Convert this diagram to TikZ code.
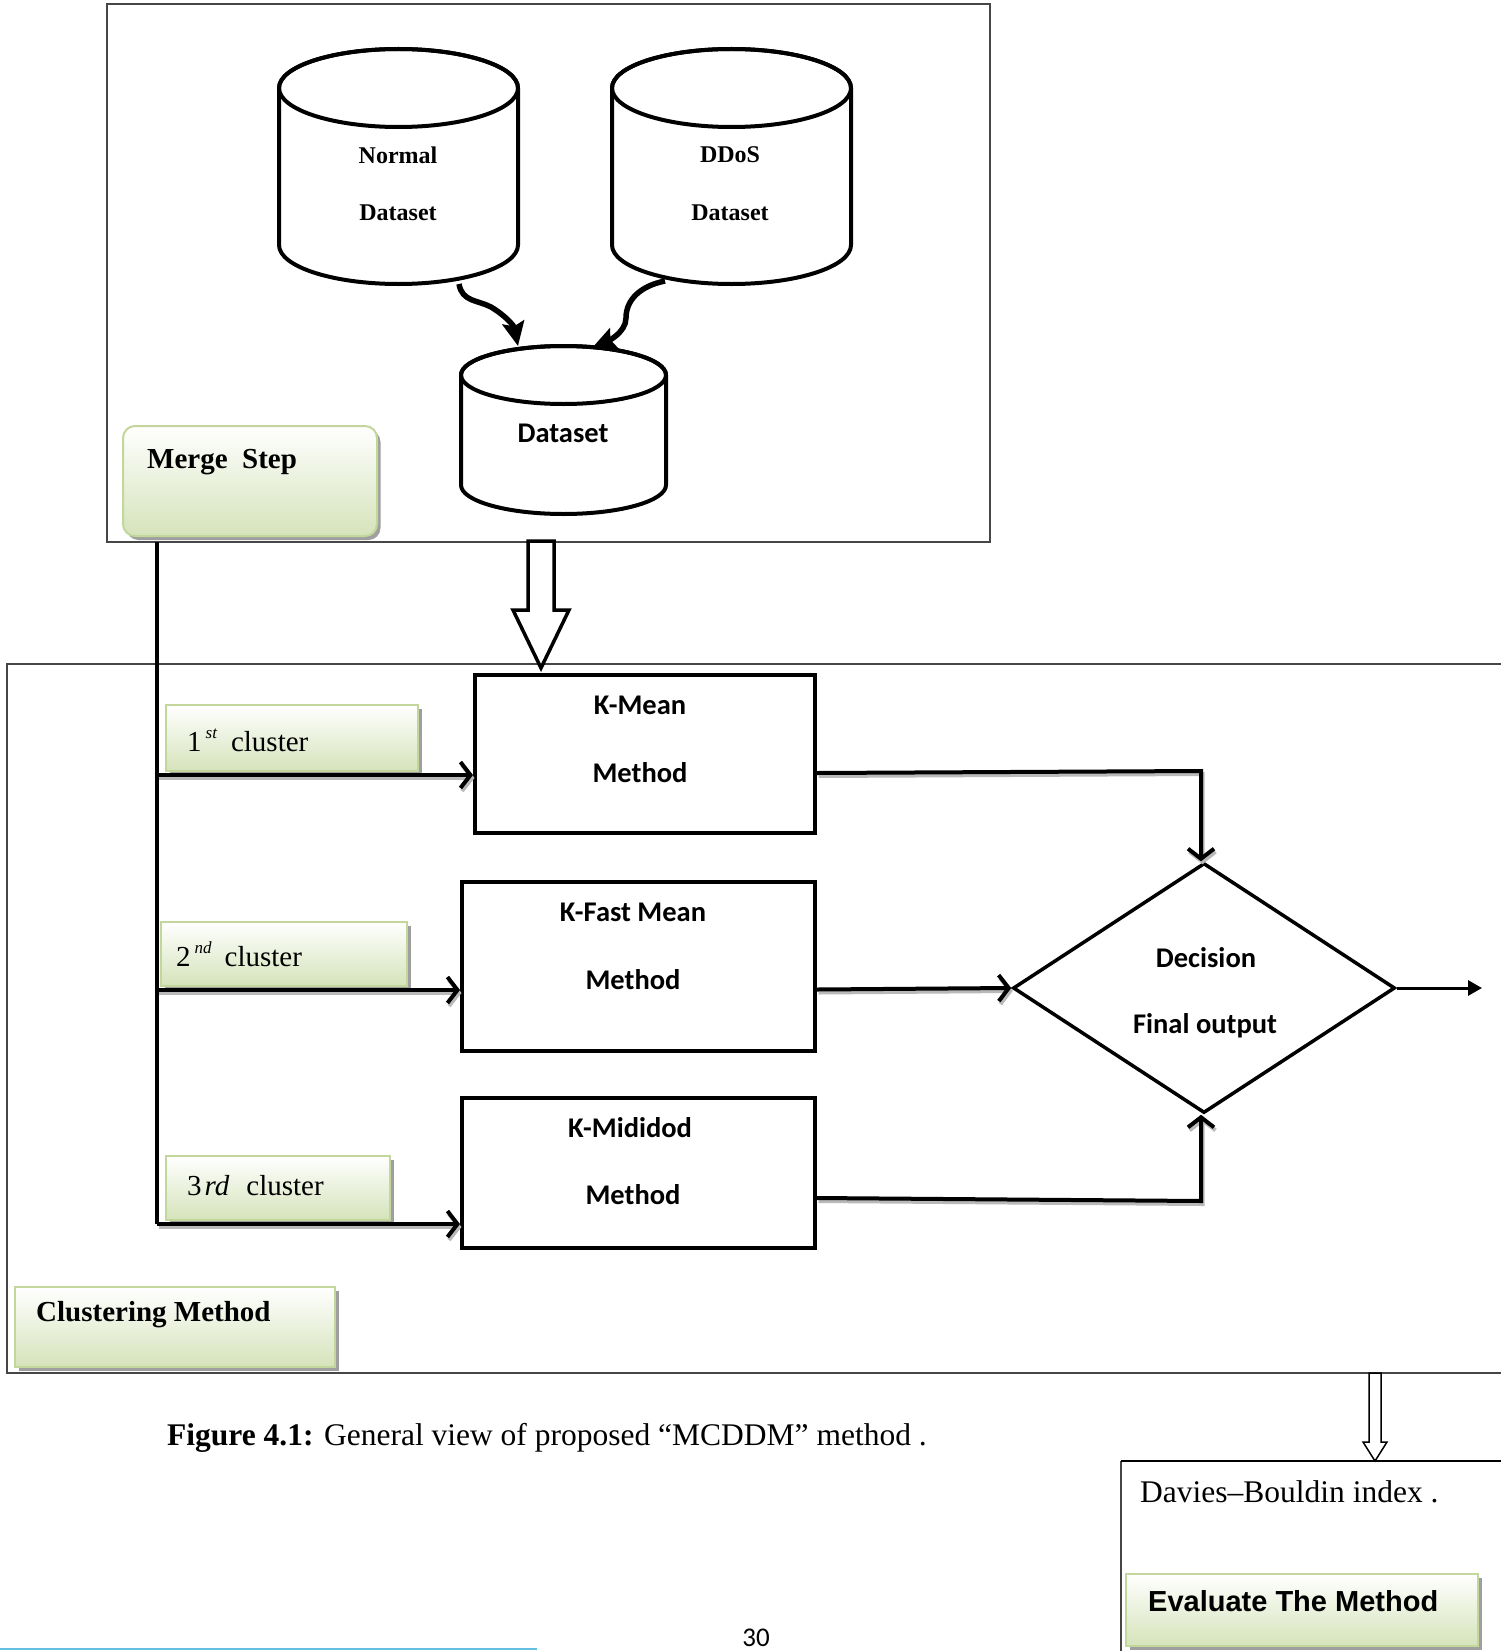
\documentclass[tikz,border=0pt]{standalone}
\usepackage{fontspec}
\setmainfont{Liberation Serif}
\newfontfamily\calfont{Carlito}
\newfontfamily\arialfont{Liberation Sans}
\usetikzlibrary{arrows.meta,shapes.geometric,shadows,calc}
\definecolor{gbord}{RGB}{195,214,155}
\definecolor{gfill}{RGB}{213,227,186}
\definecolor{framec}{RGB}{70,70,70}
\definecolor{pageblue}{RGB}{100,190,225}
\newcommand\myfs[1]{\fontsize{#1}{#1}\selectfont}
\newcommand\dbcyl[5]{%
 \pgfmathsetmacro\cylcx{(#1+#2)/2}%
 \pgfmathsetmacro\cylrx{(#2-#1)/2}%
 \draw[cylline] (#1,#3+#5) -- (#1,#4-#5) arc[start angle=180, end angle=360, x radius=\cylrx pt, y radius=#5pt] -- (#2,#3+#5) arc[start angle=0, end angle=180, x radius=\cylrx pt, y radius=#5pt] -- cycle;
 \draw[cylline, fill=none] (\cylcx,#3+#5) ellipse[x radius=\cylrx pt, y radius=#5pt];
}
\begin{document}
\begin{tikzpicture}[x=1pt,y=-1pt,
 frame/.style={draw=framec, line width=1.2pt},
 cylline/.style={draw=black, line width=4pt, fill=white},
 greenbox/.style={draw=gbord, line width=2pt, top color=white, bottom color=gfill, inner sep=0pt, anchor=north west,
   drop shadow={shadow xshift=3.5pt, shadow yshift=-4pt, fill=gray!75, opacity=1}},
 methodbox/.style={draw=black, line width=4pt, fill=white, inner sep=0pt, anchor=north west},
 caltxt/.style={font=\calfont\bfseries\myfs{28.5}, inner sep=0pt},
 serbold/.style={font=\bfseries\myfs{24}, inner sep=0pt},
 conn/.style={line width=4pt, -{Straight Barb[length=10pt,width=26pt]},
   preaction={draw=gray!55, line width=4pt, transform canvas={xshift=1.5pt,yshift=-3pt}}},
 curvearr/.style={line width=5.5pt, -{Stealth[length=24pt,width=22pt,inset=4pt]}},
 hollow/.style={draw=black, fill=white, line join=miter}
]
\useasboundingbox (0,0) rectangle (1501,1651);
\fill[white] (0,0) rectangle (1501,1651);

% frames
\draw[frame] (107,4) rectangle (990,542);
\draw[frame] (1503,664) -- (7,664) -- (7,1373) -- (1503,1373);
\draw[line width=1.2pt, draw=framec] (1121,1652) -- (1121,1461);
\draw[line width=2.5pt] (1121,1461) -- (1503,1461);

% cylinders
\dbcyl{279}{518}{49}{284}{39}
\dbcyl{612}{851}{49}{284}{39}
\dbcyl{461}{666}{346}{514}{29}
\node[serbold] (normal1) at (398,155) {Normal};
\node[serbold] (normal2) at (398,213) {Dataset};
\node[serbold] (ddos1) at (730,155) {DDoS};
\node[serbold] (ddos2) at (730,213) {Dataset};
\node[caltxt] (dataset) at (563,433) {Dataset};

\coordinate (nbot) at (459,284);
\coordinate (dbot) at (665,281);
\coordinate (mtop1) at (518,346);
\coordinate (mtop2) at (592,348);
\draw[curvearr] (nbot) .. controls (462,302) and (478,300) .. (491,307) .. controls (506,316) and (514,326) .. (mtop1);
\draw[curvearr] (dbot) .. controls (640,286) and (626,300) .. (626,318) .. controls (626,333) and (606,342) .. (mtop2);

% merge step box
\node[greenbox, rounded corners=12pt, minimum width=254pt, minimum height=110pt] (merge) at (122,425) {};
\node[font=\bfseries\myfs{29}, inner sep=0pt, anchor=west] (mergetxt) at (147,462) {Merge\ \ Step};

% big hollow arrow
\draw[hollow, line width=3.5pt] (528,541) -- (528,610) -- (513,610) -- (541,668) -- (569,610) -- (554,610) -- (554,541) -- cycle;

% cluster labels
\node[greenbox, minimum width=252pt, minimum height=66pt] (c1box) at (165,704) {};
\node[greenbox, minimum width=246pt, minimum height=64pt] (c2box) at (160,921) {};
\node[greenbox, minimum width=224pt, minimum height=64pt] (c3box) at (165,1155) {};
\node[font=\myfs{29}, inner sep=0pt, anchor=base west] (c1txt) at (187,751) {1\hspace{4pt}\raisebox{13pt}{\myfs{17}\itshape st}\hspace{14pt}cluster};
\node[font=\myfs{29}, inner sep=0pt, anchor=base west] (c2txt) at (176,966) {2\hspace{4pt}\raisebox{13pt}{\myfs{17}\itshape nd}\hspace{13pt}cluster};
\node[font=\myfs{29}, inner sep=0pt, anchor=base west] (c3txt) at (187,1195) {3\hspace{3pt}{\itshape rd}\hspace{17pt}cluster};

% method boxes
\node[methodbox, minimum width=340pt, minimum height=158pt] (kmean) at (473,673) {};
\node[methodbox, minimum width=353pt, minimum height=169pt] (kfast) at (460,880) {};
\node[methodbox, minimum width=353pt, minimum height=150pt] (kmid) at (460,1096) {};
\node[caltxt] (kmean1) at (640,705) {K-Mean};
\node[caltxt] (kmean2) at (640,773) {Method};
\node[caltxt] (kfast1) at (633,912) {K-Fast Mean};
\node[caltxt] (kfast2) at (633,980) {Method};
\node[caltxt] (kmid1) at (630,1128) {K-Mididod};
\node[caltxt] (kmid2) at (633,1195) {Method};

% decision
\node[draw, line width=3.5pt, diamond, aspect=1.53, minimum width=382pt, minimum height=250pt, inner sep=0pt, fill=white] (dec) at (1204,988) {};
\node[caltxt] (dec1) at (1206,958) {Decision};
\node[caltxt] (dec2) at (1205,1026) {Final output};

% trunk and cluster arrows
\coordinate (vtop) at (157,542);
\coordinate (vbot) at (157,1224);
\coordinate (a1) at (157,775);
\coordinate (a2) at (157,990);
\draw[line width=4pt] (vtop) -- (vbot);
\draw[conn] (a1) -- (a1 -| kmean.west);
\draw[conn] (a2) -- (a2 -| kfast.west);
\draw[conn] (vbot) -- (vbot -| kmid.west);

% method to decision
\coordinate (m3) at (1201,1201);
\coordinate (m1) at (1201,771);
\draw[conn] ([yshift=-19pt]kmean.east) -- (m1) -- (m1 |- dec.north);
\draw[conn] ([yshift=-23pt]kfast.east) -- (dec.west);
\draw[conn] ([yshift=-25pt]kmid.east) -- (m3) -- (m3 |- dec.south);
\coordinate (outend) at (1482,988);
\draw[line width=3pt, -{Triangle[length=14pt,width=15pt]}] (dec.east) -- (outend);

% clustering method box
\node[greenbox, minimum width=320pt, minimum height=80pt] (clbox) at (14,1286) {};
\node[font=\bfseries\myfs{29}, inner sep=0pt, anchor=west] (cltxt) at (36,1315) {Clustering Method};

% small hollow arrow
\draw[hollow, line width=1.5pt] (1369,1373) -- (1369,1442) -- (1363,1442) -- (1375,1461) -- (1387,1442) -- (1381,1442) -- (1381,1373) -- cycle;

% caption
\node[font=\myfs{31.5}, inner sep=0pt, anchor=west] (caption) at (167,1438) {{\bfseries Figure 4.1:} General view of proposed “MCDDM” method .};

% evaluation
\node[font=\myfs{31.5}, inner sep=0pt, anchor=west] (davies) at (1140,1492) {Davies–Bouldin index .};
\node[greenbox, minimum width=352pt, minimum height=72pt] (evbox) at (1125,1573) {};
\node[font=\arialfont\bfseries\myfs{29}, inner sep=0pt, anchor=west] (evtxt) at (1148,1601) {Evaluate The Method};

% page furniture
\node[font=\calfont\myfs{27}, inner sep=0pt] (pagenum) at (756,1638) {30};
\draw[draw=pageblue, line width=2pt] (0,1649) -- (537,1649);
\end{tikzpicture}
\end{document}
